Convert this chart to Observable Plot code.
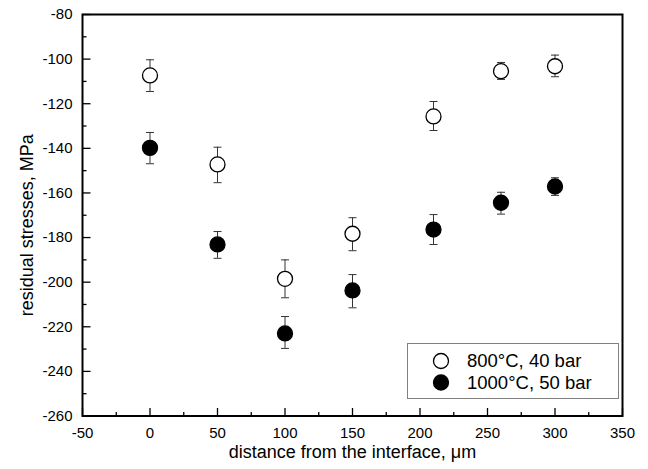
<!DOCTYPE html>
<html>
<head>
<meta charset="utf-8">
<script src="https://cdn.jsdelivr.net/npm/d3@7"></script>
<script src="https://cdn.jsdelivr.net/npm/@observablehq/plot@0.6"></script>
<style>
  html, body { margin: 0; padding: 0; background: #fff; }
  #chart { position: relative; width: 648px; height: 469px; }
  svg { font-family: "Liberation Sans", Arial, sans-serif; }
</style>
</head>
<body>
<div id="chart"></div>
<script>
// ---- data ----
const distance = [0, 50, 100, 150, 210, 260, 300];

const series800 = [-107.3, -147.2, -198.5, -178.3, -125.7, -105.4, -103.2];
const series800Lo = [-114.5, -155.4, -207.0, -185.9, -132.0, -109.1, -107.9];
const series800Hi = [-100.3, -139.5, -190.0, -171.1, -119.0, -101.5, -98.2];

const series1000 = [-139.8, -183.1, -223.0, -203.7, -176.4, -164.4, -157.1];
const series1000Lo = [-146.9, -189.3, -229.7, -211.5, -183.1, -169.5, -161.1];
const series1000Hi = [-132.9, -177.3, -215.4, -196.6, -169.7, -159.7, -153.2];

const seriesNames = ["800°C, 40 bar", "1000°C, 50 bar"];

const xMajor = [-50, 0, 50, 100, 150, 200, 250, 300, 350];
const xMinor = [-25, 25, 75, 125, 175, 225, 275, 325];
const yMajor = [-260, -240, -220, -200, -180, -160, -140, -120, -100, -80];
const yMinor = [-250, -230, -210, -190, -170, -150, -130, -110, -90];

const xTitle = "distance from the interface, μm";
const yTitle = "residual stresses, MPa";

// ---- build table ----
const rows = [];
distance.forEach((d, i) => {
  rows.push({x: d, y: series800[i], lo: series800Lo[i], hi: series800Hi[i], s: seriesNames[0]});
  rows.push({x: d, y: series1000[i], lo: series1000Lo[i], hi: series1000Hi[i], s: seriesNames[1]});
});

// custom symbols: horizontal cap, upward tick, rightward tick
const capSymbol = {
  draw(context, size) {
    const w = Math.sqrt(size / Math.PI);
    context.moveTo(-w, 0);
    context.lineTo(w, 0);
  }
};
const tickUp = {
  draw(context, size) {
    const l = Math.sqrt(size / Math.PI);
    context.moveTo(0, 0);
    context.lineTo(0, -l);
  }
};
const tickRight = {
  draw(context, size) {
    const l = Math.sqrt(size / Math.PI);
    context.moveTo(0, 0);
    context.lineTo(l, 0);
  }
};

const fmt = d => String(d);
const xLo = -50, yLo = -260;

const plot = Plot.plot({
  width: 648,
  height: 469,
  marginLeft: 82,
  marginRight: 26,
  marginTop: 14,
  marginBottom: 53.5,
  style: {fontFamily: "'Liberation Sans', Arial, sans-serif", fontSize: "15px", background: "#fff"},
  x: {domain: [-50, 350]},
  y: {domain: [-260, -80]},
  marks: [
    // tick labels
    Plot.axisX(xMajor, {tickSize: 0, tickPadding: 11, fontSize: 15, tickFormat: fmt, label: null}),
    Plot.axisY(yMajor, {tickSize: 0, tickPadding: 10, fontSize: 15, tickFormat: fmt, label: null}),
    // inward ticks
    Plot.dot(xMajor, {x: d => d, y: () => yLo, symbol: tickUp, r: 8, stroke: "#000", strokeWidth: 1.3, fill: "none"}),
    Plot.dot(xMinor, {x: d => d, y: () => yLo, symbol: tickUp, r: 4, stroke: "#000", strokeWidth: 1.3, fill: "none"}),
    Plot.dot(yMajor, {x: () => xLo, y: d => d, symbol: tickRight, r: 8, stroke: "#000", strokeWidth: 1.3, fill: "none"}),
    Plot.dot(yMinor, {x: () => xLo, y: d => d, symbol: tickRight, r: 4, stroke: "#000", strokeWidth: 1.3, fill: "none"}),
    // axis titles
    Plot.text([xTitle], {frameAnchor: "bottom", textAnchor: "middle", lineAnchor: "bottom", dy: 41.5, fontSize: 18, text: d => d}),
    Plot.text([yTitle], {frameAnchor: "left", textAnchor: "middle", lineAnchor: "bottom", rotate: -90, dx: -50, dy: 10, fontSize: 18, text: d => d}),
    // error bars
    Plot.ruleX(rows, {x: "x", y1: "lo", y2: "hi", stroke: "#333", strokeWidth: 1}),
    Plot.dot(rows, {x: "x", y: "lo", symbol: capSymbol, r: 4, stroke: "#333", strokeWidth: 1, fill: "none"}),
    Plot.dot(rows, {x: "x", y: "hi", symbol: capSymbol, r: 4, stroke: "#333", strokeWidth: 1, fill: "none"}),
    // points
    Plot.dot(rows, {x: "x", y: "y", r: 7.5, stroke: "#000", strokeWidth: 1.3,
      fill: d => d.s === seriesNames[0] ? "#fff" : "#000"}),
    Plot.frame({stroke: "#000", strokeWidth: 2})
  ]
});

document.getElementById("chart").appendChild(plot);

// ---- legend (inside the plot area) ----
const svg = d3.select(plot);
const lg = svg.append("g").attr("class", "legend");
lg.append("rect")
  .attr("x", 407.5).attr("y", 343.5).attr("width", 211).attr("height", 55)
  .attr("fill", "#fff").attr("stroke", "#808080").attr("stroke-width", 1);
const fills = ["#fff", "#000"];
seriesNames.forEach((name, i) => {
  const cy = 361 + i * 21.5;
  lg.append("circle").attr("cx", 441).attr("cy", cy).attr("r", 7.5)
    .attr("fill", fills[i]).attr("stroke", "#000").attr("stroke-width", 1.3);
  lg.append("text").attr("x", 467).attr("y", cy + 6.3)
    .attr("font-size", 18.5).attr("fill", "#000")
    .attr("text-anchor", "start")
    .attr("font-family", "'Liberation Sans', Arial, sans-serif")
    .text(name);
});
</script>
</body>
</html>
